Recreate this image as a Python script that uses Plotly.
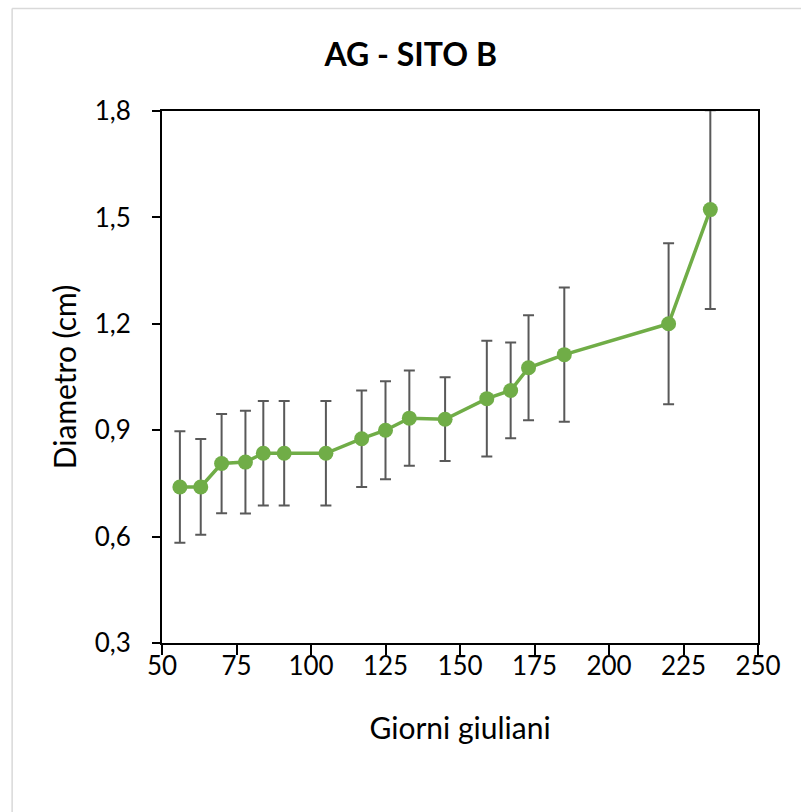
import plotly.graph_objects as go

# Data
giorni = [56, 63, 70, 78, 84, 91, 105, 117, 125, 133, 145, 159, 167, 173, 185, 220, 234]
diametro = [0.740, 0.740, 0.806, 0.810, 0.835, 0.835, 0.835, 0.876, 0.900, 0.934,
            0.931, 0.989, 1.012, 1.076, 1.113, 1.200, 1.522]
errore = [0.157, 0.135, 0.140, 0.145, 0.147, 0.147, 0.147, 0.136, 0.138, 0.134,
          0.118, 0.163, 0.135, 0.148, 0.189, 0.227, 0.280]

x_ticks = [50, 75, 100, 125, 150, 175, 200, 225, 250]
y_ticks = [0.3, 0.6, 0.9, 1.2, 1.5, 1.8]

FONT = "Lato"
W, H = 801, 812
L, R, T, B = 162, 42.5, 110.5, 169.3
pw = W - L - R
ph = H - T - B

fig = go.Figure()
fig.add_trace(go.Scatter(
    x=giorni, y=diametro,
    mode="lines+markers",
    line=dict(color="#70AD47", width=3.5),
    marker=dict(color="#70AD47", size=15),
    error_y=dict(type="data", array=errore, visible=True,
                 color="#595959", thickness=2, width=5.5),
    cliponaxis=False,
    showlegend=False,
))

# light chart-area border (left and top edges visible)
bx = (12 - L) / pw
by = (H - B - 8) / ph
fig.add_shape(type="line", xref="paper", yref="paper", x0=bx, x1=bx, y0=-2, y1=by,
              line=dict(color="#D9D9D9", width=1.5))
fig.add_shape(type="line", xref="paper", yref="paper", x0=bx, x1=3, y0=by, y1=by,
              line=dict(color="#D9D9D9", width=1.5))

fig.update_layout(
    width=W, height=H,
    margin=dict(l=L, r=R, t=T, b=B),
    paper_bgcolor="white", plot_bgcolor="white",
    separators=",.",
    font=dict(family=FONT, color="black", size=26),
    title=dict(text="<b>AG - SITO B</b>", x=(411 - L) / pw, xref="paper", xanchor="center",
               y=1 - 55 / H, yref="container", yanchor="middle",
               font=dict(family=FONT, size=32, color="black")),
    xaxis=dict(range=[50, 250], tickvals=x_ticks, showgrid=False, zeroline=False,
               showline=True, linecolor="black", linewidth=2, mirror=True,
               ticks="outside", ticklen=10, tickwidth=2, tickcolor="black",
               ticklabelstandoff=-11,
               tickfont=dict(family=FONT, size=26, color="black"),
               title=dict(text="Giorni giuliani", standoff=38,
                          font=dict(family=FONT, size=30, color="black"))),
    yaxis=dict(range=[0.3, 1.8], tickvals=y_ticks, tickformat=".1f", showgrid=False,
               zeroline=False, showline=True, linecolor="black", linewidth=2, mirror=True,
               ticks="outside", ticklen=8, tickwidth=2, tickcolor="black",
               ticklabelstandoff=16,
               tickfont=dict(family=FONT, size=26, color="black"),
               title=dict(text="Diametro (cm)", standoff=9,
                          font=dict(family=FONT, size=30, color="black"))),
)

fig.write_html("out.html")
